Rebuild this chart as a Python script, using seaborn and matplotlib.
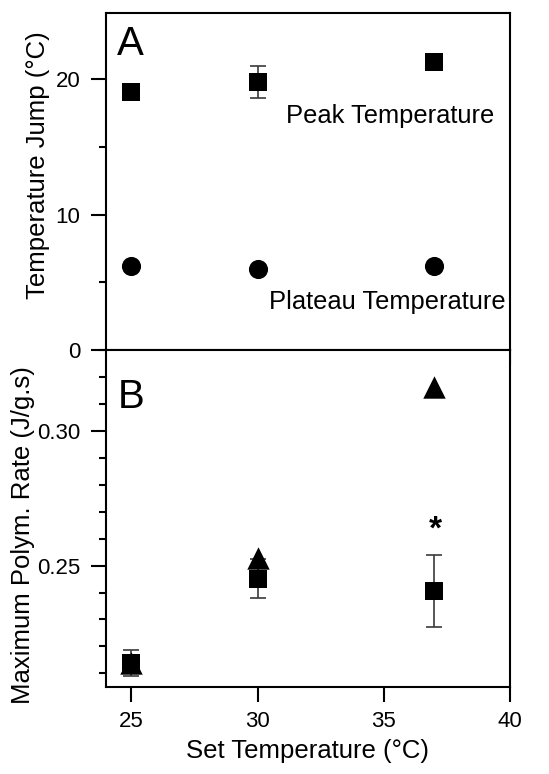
import numpy as np
import pandas as pd
import matplotlib
matplotlib.use("Agg")
import matplotlib.pyplot as plt
from matplotlib.ticker import MultipleLocator, FormatStrFormatter
import seaborn as sns

sns.set_style("ticks")
plt.rcParams['font.family'] = ['Liberation Sans', 'DejaVu Sans']
plt.rcParams['text.color'] = 'black'
plt.rcParams['axes.labelcolor'] = 'black'
plt.rcParams['xtick.color'] = 'black'
plt.rcParams['ytick.color'] = 'black'

# ---- data ----
set_temp = [25, 30, 37]
peak_temp = [19.06, 19.8, 21.3]
peak_err = [0.0, 1.15, 0.0]
plateau_temp = [6.21, 5.99, 6.2]

rate_sq = [0.2138, 0.2451, 0.2406]
rate_sq_err = [0.0047, 0.0073, 0.0135]
rate_tri = [0.2140, 0.2528, 0.3164]

df_a = pd.DataFrame({"x": set_temp, "peak": peak_temp, "plateau": plateau_temp})
df_b = pd.DataFrame({"x": set_temp, "sq": rate_sq, "tri": rate_tri})

W, H = 549, 774
fig = plt.figure(figsize=(W / 100, H / 100), dpi=100)
L, R = 106 / W, 510 / W
axA = fig.add_axes([L, 1 - 350 / H, R - L, 337 / H])
axB = fig.add_axes([L, 1 - 687 / H, R - L, 337 / H])

ecol = "#3a3a3a"

# Panel A
axA.errorbar(set_temp, peak_temp, yerr=peak_err, fmt="none", ecolor=ecol,
             elinewidth=1.2, capsize=6, capthick=1.2, zorder=1)
sns.scatterplot(data=df_a, x="x", y="peak", marker="s", s=150, color="black",
                edgecolor="black", linewidth=0, ax=axA, zorder=3)
sns.scatterplot(data=df_a, x="x", y="plateau", marker="o", s=190, color="black",
                edgecolor="black", linewidth=0, ax=axA, zorder=3)
axA.set_xlim(24, 40)
axA.set_ylim(0, 24.9)
axA.yaxis.set_major_locator(MultipleLocator(10))
axA.yaxis.set_minor_locator(MultipleLocator(5))
axA.xaxis.set_major_locator(MultipleLocator(5))
axA.set_xticklabels([])
axA.set_xlabel("")
axA.set_ylabel("")
axA.text(24.45, 22.6, "A", fontsize=29, va="center", ha="left")
axA.text(0.445, 0.695, "Peak Temperature", transform=axA.transAxes, fontsize=18.4,
         ha="left", va="center")
axA.text(0.403, 0.142, "Plateau Temperature", transform=axA.transAxes, fontsize=18.4,
         ha="left", va="center")

# Panel B
axB.errorbar(set_temp, rate_sq, yerr=rate_sq_err, fmt="none", ecolor=ecol,
             elinewidth=1.2, capsize=6, capthick=1.2, zorder=1)
sns.scatterplot(data=df_b, x="x", y="tri", marker="^", s=260, color="black",
                edgecolor="black", linewidth=0, ax=axB, zorder=3)
sns.scatterplot(data=df_b, x="x", y="sq", marker="s", s=170, color="black",
                edgecolor="black", linewidth=0, ax=axB, zorder=4)
axB.set_xlim(24, 40)
axB.set_ylim(0.2049, 0.3301)
axB.yaxis.set_major_locator(MultipleLocator(0.05))
axB.yaxis.set_minor_locator(MultipleLocator(0.01))
axB.yaxis.set_major_formatter(FormatStrFormatter("%.2f"))
axB.xaxis.set_major_locator(MultipleLocator(5))
axB.set_ylabel("")
axB.set_xlabel("Set Temperature (°C)", fontsize=18.5, labelpad=5)
axB.text(24.45, 0.3125, "B", fontsize=29, va="center", ha="left")
axB.text(37.05, 0.2633, "*", fontsize=24, ha="center", va="center",
         fontweight="bold")

for ax in (axA, axB):
    for sp in ax.spines.values():
        sp.set_visible(True)
        sp.set_linewidth(1.5)
        sp.set_color("black")
    ax.tick_params(which="major", direction="out", length=10.5, width=1.5,
                   labelsize=16, color="black", labelcolor="black")
    ax.tick_params(axis="y", which="major", pad=8)
    ax.tick_params(axis="x", which="major", pad=6.5)
    ax.tick_params(which="minor", direction="out", length=5, width=1.5,
                   color="black")
    ax.tick_params(axis="x", which="minor", length=0)
    ax.tick_params(top=False, right=False)

fig.text(38 / W, 1 - 165 / H, "Temperature Jump (°C)", rotation=90,
         fontsize=18.5, ha="center", va="center")
fig.text(23 / W, 1 - 535 / H, "Maximum Polym. Rate (J/g.s)", rotation=90,
         fontsize=18.5, ha="center", va="center")

fig.savefig("out.png", dpi=100, facecolor="white")
